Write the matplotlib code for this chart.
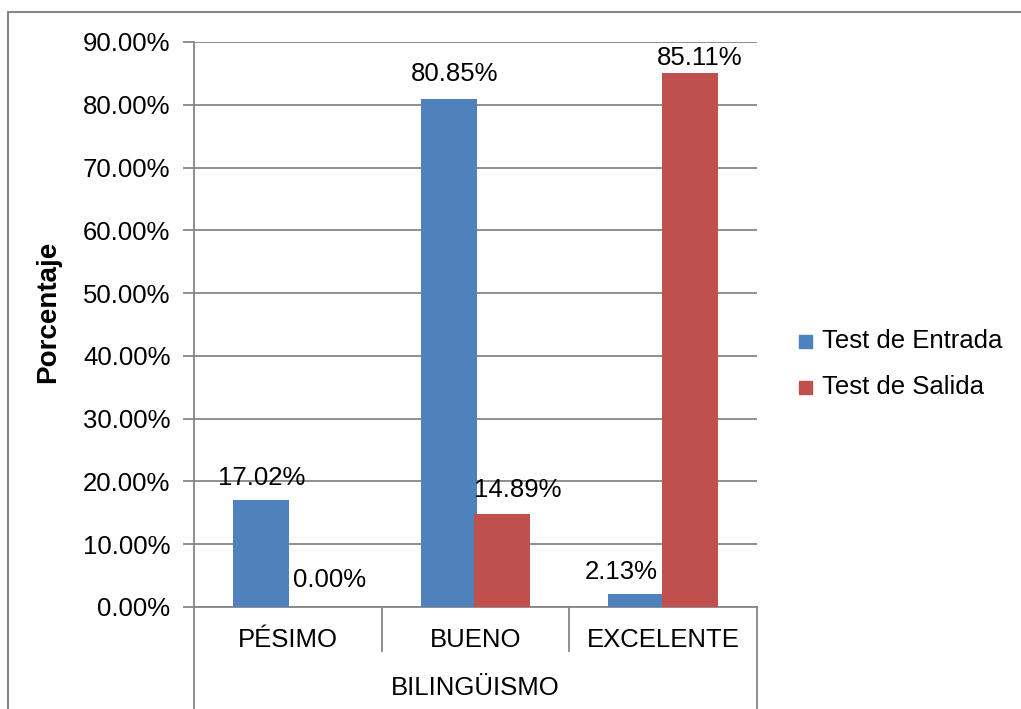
import matplotlib
matplotlib.use("Agg")
import matplotlib.pyplot as plt
from matplotlib.patches import Rectangle
import numpy as np

categories = ["PÉSIMO", "BUENO", "EXCELENTE"]
group_label = "BILINGÜISMO"
series_names = ["Test de Entrada", "Test de Salida"]
entrada = [0.1702, 0.8085, 0.0213]
salida = [0.0000, 0.1489, 0.8511]
yticks = [0.0, 0.1, 0.2, 0.3, 0.4, 0.5, 0.6, 0.7, 0.8, 0.9]

plt.rcParams['font.family'] = ['Liberation Sans', 'DejaVu Sans']
W, H = 1021, 709
fig = plt.figure(figsize=(W / 100, H / 100), dpi=100)
fig.patch.set_facecolor("white")

grey = "#868686"
blue = "#4F81BD"
red = "#C0504D"
fs = 18.5

# outer border
fig.patches.append(Rectangle((8 / W, -0.1), 1.2, 1 - 12 / H + 0.1, transform=fig.transFigure,
                             fill=False, edgecolor=grey, linewidth=1.5))

left, right, top, bottom = 194, 757, 42, 607
ax = fig.add_axes([left / W, 1 - bottom / H, (right - left) / W, (bottom - top) / H])
ax.set_facecolor("none")

x = np.arange(len(categories))
bw = 0.298
off = 0.143
b1 = ax.bar(x - off, entrada, bw, color=blue, zorder=3)
b2 = ax.bar(x + off, salida, bw, color=red, zorder=3)

ax.set_xlim(-0.5, len(categories) - 0.5)
ax.set_ylim(0, 0.9)
ax.set_yticks(yticks)
ax.set_yticklabels([f"{v*100:.2f}%" for v in yticks], fontsize=fs)
ax.yaxis.grid(True, color=grey, linewidth=1.3, zorder=0)
ax.set_axisbelow(True)
ax.tick_params(axis='y', length=8, width=1.3, color=grey, pad=9)
ax.set_xticks([])
for s in ["top", "right"]:
    ax.spines[s].set_visible(False)
for s in ["left", "bottom"]:
    ax.spines[s].set_color(grey)
    ax.spines[s].set_linewidth(1.3)

fig.text(48 / W, 1 - 312 / H, "Porcentaje", rotation=90, ha="center", va="center",
         fontsize=20, fontweight="bold")

# data labels (pixel offsets from bar top centre)
lbl_dx_e = [1, 6, -15]
lbl_dy_e = [22, 25, 22]
lbl_dx_s = [15, 15, 10]
lbl_dy_s = [27, 24, 15]
for i, v in enumerate(entrada):
    ax.annotate(f"{v*100:.2f}%", (x[i] - off, v), xytext=(lbl_dx_e[i] * 0.72, lbl_dy_e[i] * 0.72),
                textcoords="offset points", ha="center", va="center", fontsize=fs)
for i, v in enumerate(salida):
    ax.annotate(f"{v*100:.2f}%", (x[i] + off, v), xytext=(lbl_dx_s[i] * 0.72, lbl_dy_s[i] * 0.72),
                textcoords="offset points", ha="center", va="center", fontsize=fs)

# multi-level category axis
tr = ax.get_xaxis_transform()
ph = bottom - top
inner_end = -(651 - bottom) / ph
outer_end = -(720 - bottom) / ph
for b in np.arange(len(categories) + 1) - 0.5:
    endy = outer_end if b in (-0.5, len(categories) - 0.5) else inner_end
    ax.plot([b, b], [0, endy], transform=tr, color=grey, linewidth=1.3, clip_on=False)
for i, c in enumerate(categories):
    ax.text(x[i], -(640 - bottom) / ph, c, transform=tr, ha="center", va="center", fontsize=fs)
ax.text(np.mean(x), -(688 - bottom) / ph, group_label, transform=tr, ha="center", va="center", fontsize=fs)

# legend
colors = [blue, red]
ys = [341, 387]
for name, col, yy in zip(series_names, colors, ys):
    fig.patches.append(Rectangle((799 / W, 1 - (yy + 7) / H), 13 / W, 13 / H,
                                 transform=fig.transFigure, color=col))
    fig.text(822 / W, 1 - yy / H, name, ha="left", va="center", fontsize=fs)

fig.savefig("out.png", dpi=100)
